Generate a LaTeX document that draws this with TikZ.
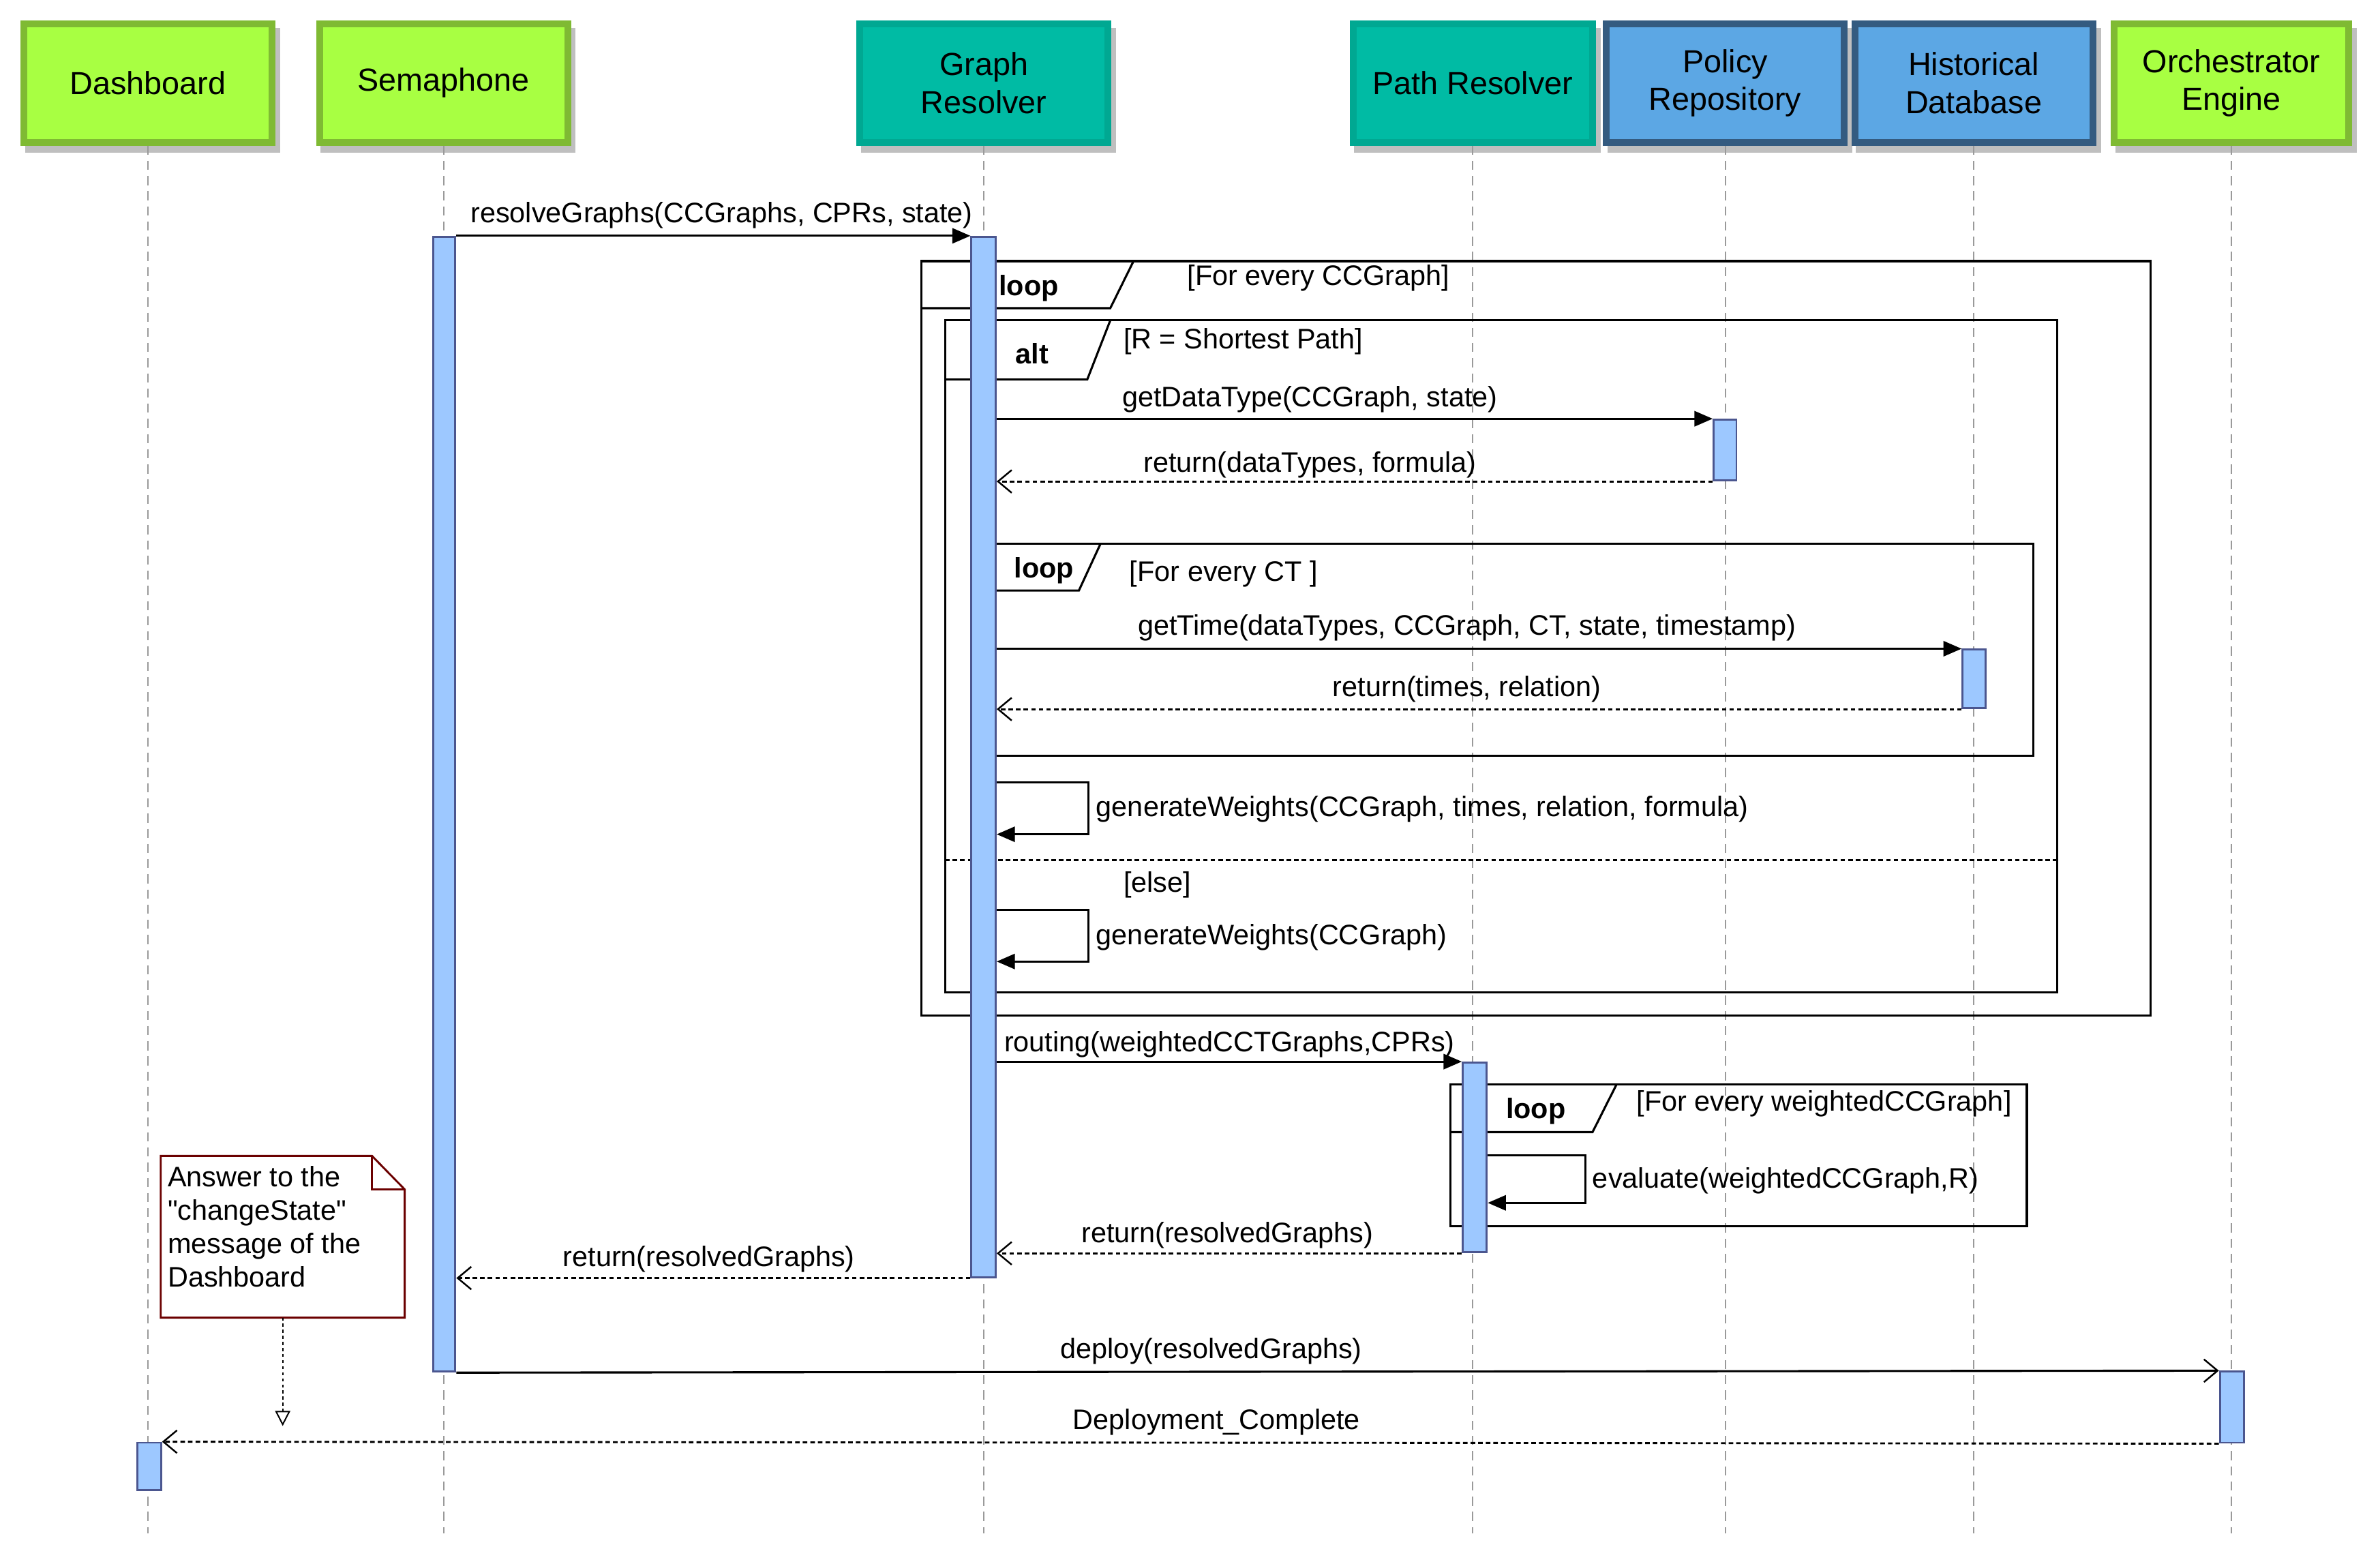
\documentclass[tikz,border=0pt]{standalone}
\usepackage{fontspec}
\setmainfont{Liberation Sans}[Ligatures=TeXOff]
\usetikzlibrary{arrows.meta,shadows,calc}
\definecolor{grnF}{HTML}{A8FF42}
\definecolor{grnB}{HTML}{7FBA33}
\definecolor{tealF}{HTML}{00BBA4}
\definecolor{tealB}{HTML}{00A892}
\definecolor{blueF}{HTML}{5CA7E4}
\definecolor{blueB}{HTML}{345B80}
\definecolor{actF}{HTML}{9DC8FF}
\definecolor{actB}{HTML}{4B568F}
\definecolor{shgray}{HTML}{BFBFBF}
\definecolor{llgray}{HTML}{9A9A9A}
\definecolor{noteB}{HTML}{6B0000}
\newcommand\hdrfont{\fontsize{21}{25}\selectfont}
\newcommand\msgfont{\fontsize{18.6}{22}\selectfont}
\begin{document}
\begin{tikzpicture}[x=1pt,y=-1pt,
  hdr/.style n args={2}{draw=#1, fill=#2, line width=4.5pt, inner sep=0pt, align=center, font=\hdrfont,
     general shadow={fill=shgray, draw=shgray, shadow xshift=3pt, shadow yshift=-4.8pt}},
  lifeline/.style={draw=llgray, line width=0.9pt, dash pattern=on 6pt off 4pt},
  act/.style={draw=actB, fill=actF, line width=1.3pt, inner sep=0pt},
  frm/.style={draw=black, line width=1.4pt},
  sepline/.style={draw=black, line width=1.3pt, dash pattern=on 3pt off 2pt},
  msg/.style={draw=black, line width=1.4pt, -{Triangle[length=12pt,width=10pt]}},
  ret/.style={draw=black, line width=1.3pt, dash pattern=on 3pt off 2pt, -{Straight Barb[length=9pt,width=15pt,line width=1.1pt]}},
  opn/.style={draw=black, line width=1.4pt, -{Straight Barb[length=9pt,width=15pt,line width=1.1pt]}},
  notearr/.style={draw=black, line width=0.9pt, dash pattern=on 2pt off 2pt, -{Triangle[open,length=10pt,width=10pt,line width=0.9pt]}},
  lbl/.style={font=\msgfont, inner sep=0pt},
  flbl/.style={font=\msgfont\bfseries, inner sep=0pt, anchor=west}
]
\useasboundingbox (0,0) rectangle (1568,1029);

% headers
\node[hdr={grnB}{grnF}, minimum width=163.5pt, minimum height=78pt] (dash) at (97.5,54.7) {Dashboard};
\node[hdr={grnB}{grnF}, minimum width=163.5pt, minimum height=78pt] (sema) at (292.3,54.7) {Semaphone};
\node[hdr={tealB}{tealF}, minimum width=163.5pt, minimum height=78pt] (grr) at (648.2,54.7) {Graph\\Resolver};
\node[hdr={tealB}{tealF}, minimum width=157.9pt, minimum height=78pt] (pathr) at (970.3,54.7) {Path Resolver};
\node[hdr={blueB}{blueF}, minimum width=156.9pt, minimum height=78pt] (pol) at (1136.6,54.7) {Policy\\Repository};
\node[hdr={blueB}{blueF}, minimum width=156.9pt, minimum height=78pt] (hist) at (1300.4,54.7) {Historical\\Database};
\node[hdr={grnB}{grnF}, minimum width=154.5pt, minimum height=78pt] (orch) at (1470,54.7) {Orchestrator\\Engine};

% lifelines
\coordinate (llend) at (0,1010);
\foreach \n in {dash,sema,grr,pathr,pol,hist,orch}{
  \draw[lifeline] (\n.south) -- (\n.south |- llend);
}

% frames
\draw[frm] (607,172) rectangle (1417,669);
\draw[frm] (607,203) -- (731.5,203) -- (746.8,172);
\draw[frm] (622.6,211) rectangle (1355.5,653.6);
\draw[frm] (622.6,250) -- (716.3,250) -- (731.5,211);
\draw[sepline] (622.6,566.5) -- (1355.5,566.5);
\draw[frm] (647.6,358.3) rectangle (1339.4,498);
\draw[frm] (647.6,389) -- (710.8,389) -- (725,358.3);
\draw[frm] (955.5,714.4) rectangle (1335.3,807.8);
\draw[frm] (955.5,745.8) -- (1049.2,745.8) -- (1065,714.4);

\node[flbl] (f1) at (658,190) {loop};
\node[lbl,anchor=west] (c1) at (782,183) {[For every CCGraph]};
\node[flbl] (f2) at (669,233) {alt};
\node[lbl,anchor=west] (c2) at (740,225) {[R = Shortest Path]};
\node[flbl] (f3) at (668,376) {loop};
\node[lbl,anchor=west] (c3) at (744,378) {[For every CT ]};
\node[flbl] (f4) at (992,732) {loop};
\node[lbl,anchor=west] (c4) at (1078,727) {[For every weightedCCGraph]};
\node[lbl,anchor=west] (c5) at (740,583) {[else]};

% activations
\node[act, minimum width=14.5pt, minimum height=747.6pt] (semA) at (292.75,529.8) {};
\node[act, minimum width=16pt, minimum height=685.3pt] (grA) at (648,498.65) {};
\node[act, minimum width=15pt, minimum height=40pt] (polA) at (1136.5,296.5) {};
\node[act, minimum width=15pt, minimum height=38.5pt] (hisA) at (1300.5,447.25) {};
\node[act, minimum width=15.8pt, minimum height=125pt] (pathA) at (971.6,762.5) {};
\node[act, minimum width=16pt, minimum height=46.8pt] (orchA) at (1470.5,927) {};
\node[act, minimum width=15.4pt, minimum height=31.2pt] (dashA) at (98.4,966) {};

% messages
\draw[msg] (semA.north east) -- (grA.north west);
\draw[msg] (grA.east |- polA.north) -- (polA.north west);
\draw[ret] (polA.south west) -- (grA.east |- polA.south);
\draw[msg] (grA.east |- hisA.north) -- (hisA.north west);
\draw[ret] (hisA.south west) -- (grA.east |- hisA.south);
\coordinate (gw1a) at (0,515.2);
\coordinate (gw1b) at (0,549.6);
\coordinate (gw2a) at (0,599.3);
\coordinate (gw2b) at (0,633.4);
\coordinate (ev1a) at (0,761.2);
\coordinate (ev1b) at (0,792.4);
\draw[msg] (grA.east |- gw1a) -- ++(60.3,0) |- (grA.east |- gw1b);
\draw[msg] (grA.east |- gw2a) -- ++(60.3,0) |- (grA.east |- gw2b);
\draw[msg] (grA.east |- pathA.north) -- (pathA.north west);
\draw[msg] (pathA.east |- ev1a) -- ++(64.3,0) |- (pathA.east |- ev1b);
\draw[ret] (pathA.south west) -- (grA.east |- pathA.south);
\draw[ret] (grA.south west) -- (semA.east |- grA.south);
\draw[opn] (semA.south east) -- (orchA.north west);
\draw[ret] (orchA.south west) -- (dashA.north east);

% message labels
\node[lbl] (l1) at (475.5,142) {resolveGraphs(CCGraphs, CPRs, state)};
\node[lbl] (l2) at (863,263) {getDataType(CCGraph, state)};
\node[lbl] (l3) at (863,306) {return(dataTypes, formula)};
\node[lbl] (l4) at (966.4,413.5) {getTime(dataTypes, CCGraph, CT, state, timestamp)};
\node[lbl] (l5) at (966.4,454) {return(times, relation)};
\node[lbl,anchor=west] (l6) at (722,533) {generateWeights(CCGraph, times, relation, formula)};
\node[lbl,anchor=west] (l7) at (722,617.7) {generateWeights(CCGraph)};
\node[lbl] (l8) at (810,688) {routing(weightedCCTGraphs,CPRs)};
\node[lbl,anchor=west] (l9) at (1049,778) {evaluate(weightedCCGraph,R)};
\node[lbl] (l10) at (808.6,813.8) {return(resolvedGraphs)};
\node[lbl] (l11) at (467,829.5) {return(resolvedGraphs)};
\node[lbl] (l12) at (798,890) {deploy(resolvedGraphs)};
\node[lbl] (l13) at (801.5,937) {Deployment\_Complete};

% note
\node[minimum width=160.3pt, minimum height=106.1pt, inner sep=0pt] (note) at (186.25,814.75) {};
\draw[noteB, line width=1.3pt, fill=white] (note.north west) -- ($(note.north east)+(-21.5,0)$) -- ($(note.north east)+(0,22)$) -- (note.south east) -- (note.south west) -- cycle;
\draw[noteB, line width=1.3pt] ($(note.north east)+(-21.5,0)$) -- ($(note.north east)+(-21.5,22)$) -- ($(note.north east)+(0,22)$);
\node[lbl, anchor=north west, align=left] (notetxt) at (110.4,768) {Answer to the\\"changeState"\\message of the\\Dashboard};
\coordinate (ntip) at (186.25,939.4);
\draw[notearr] (note.south) -- (ntip);
\end{tikzpicture}
\end{document}
